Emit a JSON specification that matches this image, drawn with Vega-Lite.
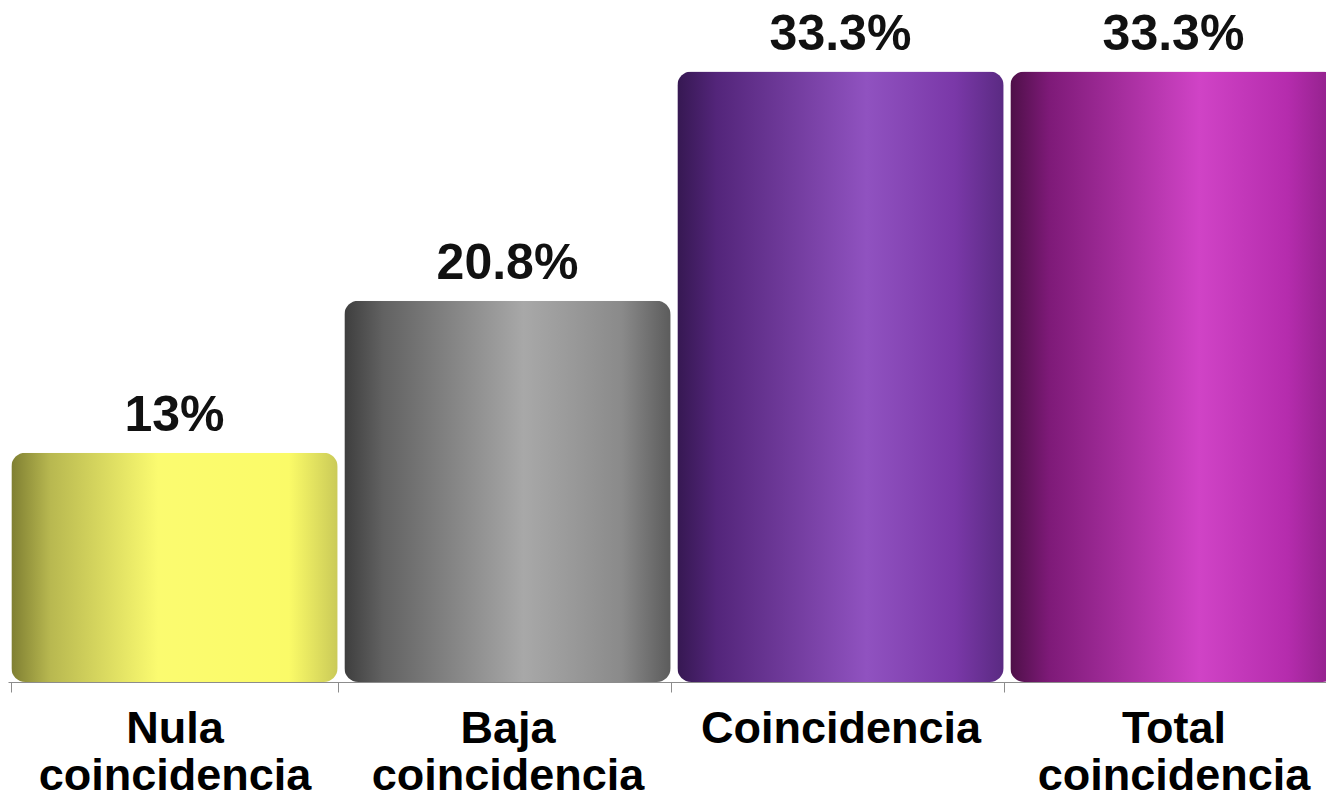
{
  "$schema": "https://vega.github.io/schema/vega-lite/v6.json",
  "autosize": {"type": "none"},
  "width": 1318,
  "height": 682,
  "padding": {"left": 8, "top": 0, "right": 0, "bottom": 119},
  "background": "white",
  "config": {"view": {"stroke": null}},
  "data": {"values": [
    {"cat": "Nula coincidencia", "value": 12.5, "label": "13%"},
    {"cat": "Baja coincidencia", "value": 20.8, "label": "20.8%"},
    {"cat": "Coincidencia", "value": 33.3, "label": "33.3%"},
    {"cat": "Total coincidencia", "value": 33.3, "label": "33.3%"}
  ]},
  "encoding": {
    "x": {"field": "cat", "type": "nominal", "sort": null,
      "scale": {"range": [0, 1332], "paddingInner": 0.02, "paddingOuter": 0.01},
      "axis": {"title": null, "labelAngle": 0, "tickBand": "extent", "domainColor": "#8c8c8c", "tickColor": "#8c8c8c", "tickSize": 10,
        "labelFont": "Liberation Sans", "labelFontWeight": "bold", "labelFontSize": 45, "labelColor": "#000000", "labelLimit": 0,
        "labelLineHeight": 47, "labelPadding": 14, "labelExpr": "split(datum.label, ' ')", "labelBaseline": "top"}},
    "y": {"field": "value", "type": "quantitative", "scale": {"domain": [0, 37.2], "nice": false}, "axis": null}
  },
  "layer": [
    {"transform": [{"filter": "datum.cat === 'Nula coincidencia'"}],
     "mark": {"type": "bar", "cornerRadius": 14, "fill": {"gradient": "linear", "x1": 0, "x2": 1, "y1": 0, "y2": 0,
       "stops": [{"offset": 0, "color": "#7f7f32"}, {"offset": 0.12, "color": "#b8b850"}, {"offset": 0.45, "color": "#fbfb70"}, {"offset": 0.85, "color": "#fbfb68"}, {"offset": 1, "color": "#caca58"}]}}},
    {"transform": [{"filter": "datum.cat === 'Baja coincidencia'"}],
     "mark": {"type": "bar", "cornerRadius": 14, "fill": {"gradient": "linear", "x1": 0, "x2": 1, "y1": 0, "y2": 0,
       "stops": [{"offset": 0, "color": "#3e3e3e"}, {"offset": 0.12, "color": "#626262"}, {"offset": 0.55, "color": "#a8a8a8"}, {"offset": 0.85, "color": "#8a8a8a"}, {"offset": 1, "color": "#5c5c5c"}]}}},
    {"transform": [{"filter": "datum.cat === 'Coincidencia'"}],
     "mark": {"type": "bar", "cornerRadius": 14, "fill": {"gradient": "linear", "x1": 0, "x2": 1, "y1": 0, "y2": 0,
       "stops": [{"offset": 0, "color": "#361852"}, {"offset": 0.12, "color": "#53257a"}, {"offset": 0.58, "color": "#9052c0"}, {"offset": 0.85, "color": "#7a38a8"}, {"offset": 1, "color": "#5a2a82"}]}}},
    {"transform": [{"filter": "datum.cat === 'Total coincidencia'"}],
     "mark": {"type": "bar", "cornerRadius": 14, "fill": {"gradient": "linear", "x1": 0, "x2": 1, "y1": 0, "y2": 0,
       "stops": [{"offset": 0, "color": "#4e1048"}, {"offset": 0.12, "color": "#7e1a78"}, {"offset": 0.58, "color": "#d043c6"}, {"offset": 0.85, "color": "#b52cad"}, {"offset": 1, "color": "#8e2088"}]}}},
    {"mark": {"type": "text", "baseline": "alphabetic", "dy": -22, "font": "Liberation Sans", "fontWeight": "bold", "fontSize": 50, "color": "#111111"},
     "encoding": {"text": {"field": "label", "type": "nominal"}}}
  ]
}
